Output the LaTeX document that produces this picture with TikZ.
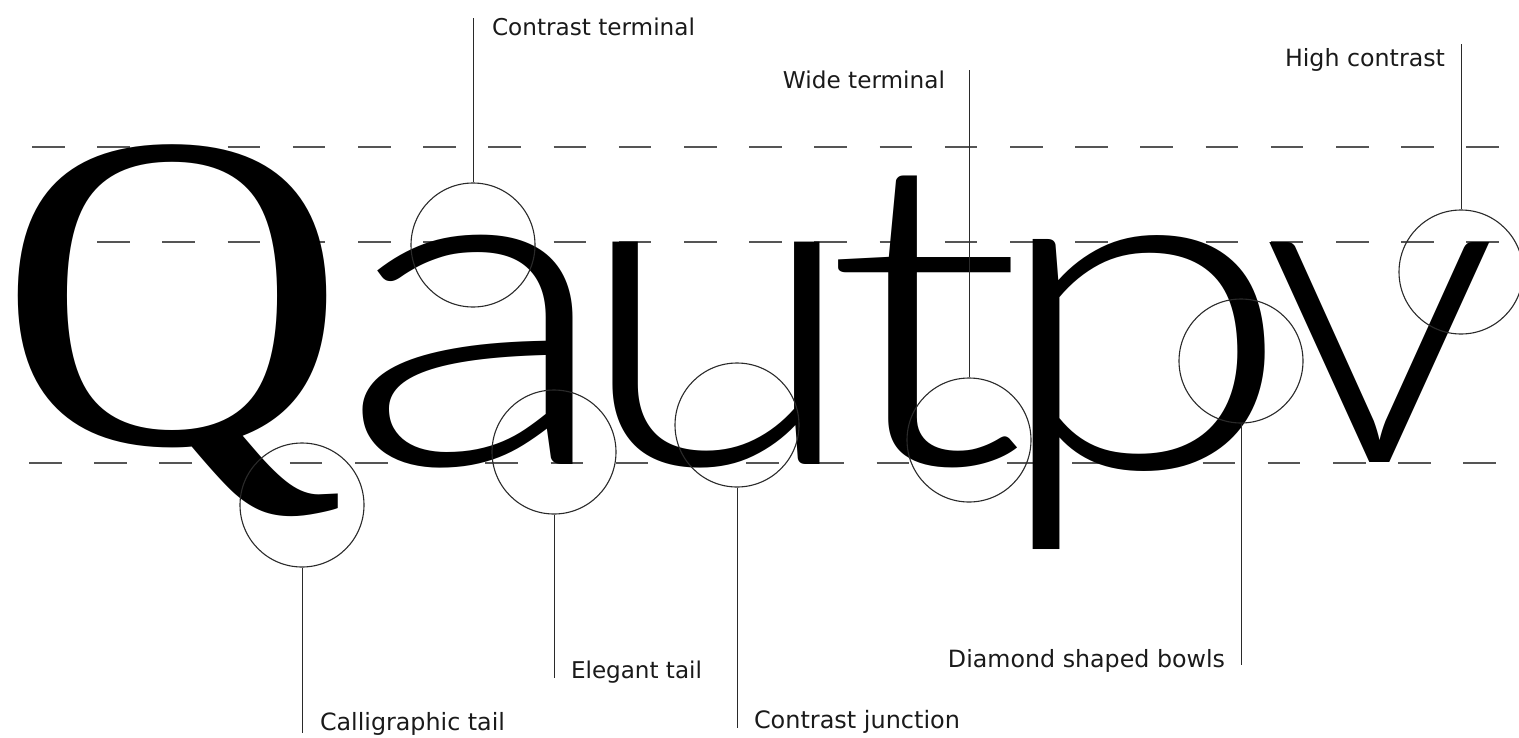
\documentclass[tikz,border=0pt]{standalone}
\usepackage{fontspec}
\usepackage{graphicx}
\newfontfamily\qfont{Liberation Serif}
\newfontfamily\gfont{Lato Light}
\newfontfamily\labelfont{DejaVu Sans}
\definecolor{guide}{HTML}{555555}
\definecolor{ink}{HTML}{2A2A2A}
\definecolor{txt}{HTML}{1A1A1A}
% measure the ink box of one glyph (done outside the picture)
\newcommand\measureglyph[3]{%
  \begingroup
  #2\fontsize{400}{400}\selectfont
  \setbox0=\hbox{#3}%
  \expandafter\xdef\csname gW#1\endcsname{\the\wd0}%
  \expandafter\xdef\csname gL#1\endcsname{\the\XeTeXglyphbounds1 \XeTeXcharglyph`#3 }%
  \expandafter\xdef\csname gT#1\endcsname{\the\XeTeXglyphbounds2 \XeTeXcharglyph`#3 }%
  \expandafter\xdef\csname gR#1\endcsname{\the\XeTeXglyphbounds3 \XeTeXcharglyph`#3 }%
  \expandafter\xdef\csname gB#1\endcsname{\the\XeTeXglyphbounds4 \XeTeXcharglyph`#3 }%
  \endgroup}
% place a glyph so that its ink box fills a target box (pixel coordinates, y downwards)
\newcommand\fitglyph[7]{%
  \begingroup
  \edef\gW{\csname gW#1\endcsname}%
  \edef\gL{\csname gL#1\endcsname}%
  \edef\gT{\csname gT#1\endcsname}%
  \edef\gR{\csname gR#1\endcsname}%
  \edef\gB{\csname gB#1\endcsname}%
  \pgfmathsetmacro\iw{\gW-\gL-\gR}%
  \pgfmathsetmacro\sx{(#5-#4)/\iw}%
  \pgfmathsetmacro\sy{(#7-#6)/(\gT+\gB)}%
  \pgfmathsetmacro\yo{#7-\sy*\gB}%
  \node[glyph] (#1) at (#4,\yo) {\scalebox{\sx}[\sy]{#2\fontsize{400}{400}\selectfont\makebox[\iw pt][l]{\kern-\gL\relax #3}}};%
  \endgroup}
\tikzset{
  glyph/.style={anchor=base west, inner sep=0pt, outer sep=0pt, text=black},
  guideline/.style={draw=guide, line width=1.4pt, dash pattern=on 32.6pt off 32.6pt},
  ring/.style={circle, draw=ink, line width=1.1pt, minimum size=124pt, inner sep=0pt},
  leader/.style={draw=ink, line width=1pt},
  lbl/.style={inner sep=0pt, outer sep=0pt, text=txt, font=\labelfont\fontsize{23}{23}\selectfont}
}
\begin{document}
\measureglyph{gQ}{\qfont}{Q}%
\measureglyph{ga}{\gfont}{a}%
\measureglyph{gu}{\gfont}{u}%
\measureglyph{gt}{\gfont}{t}%
\measureglyph{gp}{\gfont}{p}%
\measureglyph{gv}{\gfont}{v}%
\begin{tikzpicture}[x=1pt, y=-1pt]
\useasboundingbox (0,0) rectangle (1519,737);
% guide lines
\draw[guideline] (32,147) -- (1499,147);
\draw[guideline] (32,242) -- (1499,242);
\draw[guideline] (29,463) -- (1496,463);
% glyphs
\fitglyph{gQ}{\qfont}{Q}{18}{338}{145}{517}
\fitglyph{ga}{\gfont}{a}{363}{573}{235}{468}
\fitglyph{gu}{\gfont}{u}{613}{820}{242}{468}
\fitglyph{gt}{\gfont}{t}{839}{1018}{176}{468}
\fitglyph{gp}{\gfont}{p}{1033}{1265}{236}{550}
\fitglyph{gv}{\gfont}{v}{1270}{1490}{242}{462}
% circles
\node[ring] (cterm) at (473,245) {};
\node[ring] (ctail) at (302,505) {};
\node[ring] (etail) at (554,452) {};
\node[ring] (cjunc) at (737,425) {};
\node[ring] (wterm) at (969,440) {};
\node[ring] (dbowl) at (1241,361) {};
\node[ring] (hcon)  at (1461,272) {};
% leader ends
\coordinate (cterm-end) at (473,18);
\coordinate (ctail-end) at (302,733);
\coordinate (etail-end) at (554,678);
\coordinate (cjunc-end) at (737,728);
\coordinate (wterm-end) at (969,70);
\coordinate (dbowl-end) at (1241,665);
\coordinate (hcon-end)  at (1461,44);
\draw[leader] (cterm.north) -- (cterm-end);
\draw[leader] (ctail.south) -- (ctail-end);
\draw[leader] (etail.south) -- (etail-end);
\draw[leader] (cjunc.south) -- (cjunc-end);
\draw[leader] (wterm.north) -- (wterm-end);
\draw[leader] (dbowl.south) -- (dbowl-end);
\draw[leader] (hcon.north) -- (hcon-end);
% labels
\node[lbl, anchor=base west] (l-cterm) at (492,35) {\resizebox{203pt}{!}{Contrast terminal}};
\node[lbl, anchor=base east] (l-wterm) at (945,88) {\resizebox{162pt}{!}{Wide terminal}};
\node[lbl, anchor=base east] (l-hcon) at (1445,66) {\resizebox{160pt}{!}{High contrast}};
\node[lbl, anchor=base east] (l-dbowl) at (1225,667) {\resizebox{277pt}{!}{Diamond shaped bowls}};
\node[lbl, anchor=base west] (l-ctail) at (320,730) {\resizebox{185pt}{!}{Calligraphic tail}};
\node[lbl, anchor=base west] (l-etail) at (571,678) {\resizebox{131pt}{!}{Elegant tail}};
\node[lbl, anchor=base west] (l-cjunc) at (754,728) {\resizebox{206pt}{!}{Contrast junction}};
\end{tikzpicture}
\end{document}
